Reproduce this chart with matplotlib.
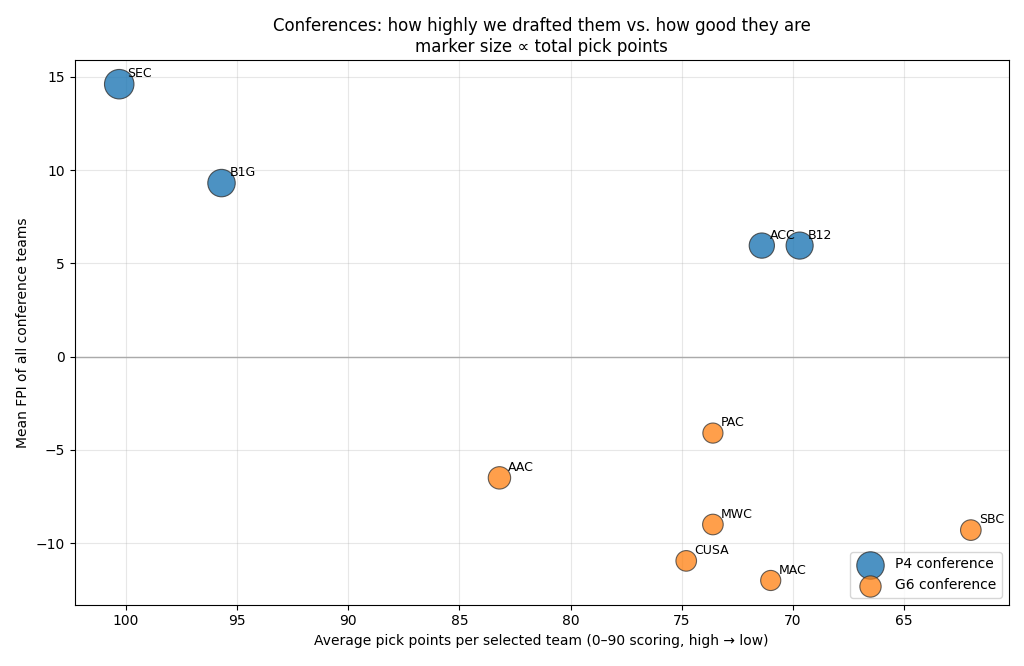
import matplotlib.pyplot as plt
import numpy as np

# P4 conferences
p4_names = ["SEC", "B1G", "ACC", "B12"]
p4_x = [100.3, 95.7, 71.4, 69.7]
p4_y = [14.6, 9.3, 5.95, 5.95]
p4_pts = [450, 390, 330, 380]

# G6 conferences
g6_names = ["PAC", "AAC", "MWC", "SBC", "CUSA", "MAC"]
g6_x = [73.6, 83.2, 73.6, 62.0, 74.8, 71.0]
g6_y = [-4.1, -6.5, -9.0, -9.3, -10.95, -12.0]
g6_pts = [210, 260, 220, 220, 220, 210]

fig, ax = plt.subplots(figsize=(10.24, 6.66), dpi=100)
fig.subplots_adjust(left=0.073, right=0.985, top=0.91, bottom=0.092)

ax.scatter(p4_x, p4_y, s=p4_pts, color="#1f77b4", alpha=0.8, edgecolor="#333333",
           linewidth=0.8, label="P4 conference", zorder=3)
ax.scatter(g6_x, g6_y, s=g6_pts, color="#ff7f0e", alpha=0.75, edgecolor="#333333",
           linewidth=0.8, label="G6 conference", zorder=3)

for n, x, y in zip(p4_names + g6_names, p4_x + g6_x, p4_y + g6_y):
    ax.annotate(n, (x, y), xytext=(6, 5), textcoords="offset points", fontsize=9)

ax.axhline(0, color="#aaaaaa", linewidth=1)
ax.grid(True, alpha=0.3)
ax.set_xlim(102.3, 60.3)
ax.set_ylim(-13.3, 15.9)
ax.set_xlabel("Average pick points per selected team (0–90 scoring, high → low)")
ax.set_ylabel("Mean FPI of all conference teams")
ax.set_title("Conferences: how highly we drafted them vs. how good they are\n"
             "marker size ∝ total pick points")
ax.legend(loc="lower right")
fig.savefig("out.png")
